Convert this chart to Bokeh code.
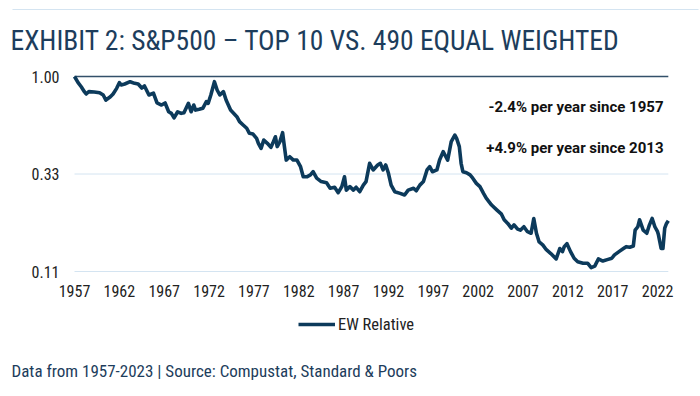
import math
from bokeh.plotting import figure
from bokeh.models import (Range1d, FixedTicker, CustomJSTickFormatter, Label, BoxAnnotation,
                          Legend, LegendItem, ColumnDataSource)
from bokeh.embed import file_html
from bokeh.resources import INLINE

# ---------------- data ----------------
dates = [1957.0, 1957.4, 1957.75, 1958.1, 1958.3, 1958.6, 1959.2, 1959.8, 1960.2, 1960.5,
         1961.0, 1961.3, 1961.7, 1962.0, 1962.2, 1962.6, 1963.2, 1963.7, 1964.1, 1964.5,
         1964.8, 1965.3, 1965.8, 1966.2, 1966.7, 1967.1, 1967.5, 1967.8, 1968.1, 1968.5,
         1968.9, 1969.2, 1969.7, 1970.0, 1970.3, 1970.5, 1970.9, 1971.3, 1971.7, 1971.9,
         1972.2, 1972.6, 1972.9, 1973.2, 1973.6, 1973.9, 1974.4, 1975.1, 1975.4, 1975.8,
         1976.2, 1976.5, 1976.9, 1977.3, 1977.5, 1977.8, 1978.1, 1978.5, 1978.9, 1979.1,
         1979.4, 1979.6, 1979.9, 1980.2, 1980.4, 1980.6, 1981.0, 1981.4, 1981.8, 1982.2,
         1982.5, 1982.9, 1983.3, 1983.6, 1984.0, 1984.5, 1985.1, 1985.5, 1986.0, 1986.4,
         1986.8, 1987.1, 1987.3, 1987.7, 1988.1, 1988.4, 1988.8, 1989.2, 1989.5, 1989.9,
         1990.3, 1990.8, 1991.1, 1991.4, 1991.7, 1992.0, 1992.3, 1992.7, 1993.3, 1993.8,
         1994.2, 1994.8, 1995.1, 1995.5, 1995.9, 1996.3, 1996.6, 1996.9, 1997.4, 1997.7,
         1998.1, 1998.4, 1998.6, 1999.0, 1999.4, 1999.6, 1999.9, 2000.1, 2000.3, 2000.7,
         2001.1, 2001.4, 2001.8, 2002.2, 2002.6, 2002.9, 2003.5, 2004.1, 2004.6, 2004.9,
         2005.3, 2005.7, 2006.0, 2006.4, 2006.7, 2007.1, 2007.5, 2007.9, 2008.2, 2008.5,
         2008.8, 2009.2, 2009.6, 2010.1, 2010.7, 2011.1, 2011.4, 2011.6, 2011.9, 2012.3,
         2012.7, 2013.1, 2013.7, 2014.2, 2014.6, 2015.0, 2015.4, 2015.9, 2016.4, 2016.9,
         2017.2, 2017.7, 2018.2, 2018.5, 2018.9, 2019.3, 2019.5, 2019.8, 2020.0, 2020.4,
         2020.8, 2021.1, 2021.4, 2021.7, 2022.0, 2022.1, 2022.4, 2022.6, 2022.8, 2023.0,
         2023.2]

ew_relative = [1.000, 0.933, 0.891, 0.843, 0.821, 0.843, 0.840, 0.833, 0.812, 0.767,
               0.796, 0.821, 0.875, 0.933, 0.909, 0.919, 0.943, 0.926, 0.919, 0.878,
               0.899, 0.812, 0.830, 0.742, 0.725, 0.742, 0.672, 0.660, 0.627, 0.672,
               0.660, 0.665, 0.739, 0.672, 0.725, 0.685, 0.691, 0.699, 0.753, 0.739,
               0.812, 0.943, 0.859, 0.812, 0.843, 0.767, 0.685, 0.636, 0.601, 0.579,
               0.558, 0.527, 0.523, 0.498, 0.471, 0.445, 0.489, 0.471, 0.450, 0.471,
               0.507, 0.454, 0.480, 0.531, 0.454, 0.390, 0.405, 0.390, 0.390, 0.362,
               0.323, 0.323, 0.330, 0.342, 0.318, 0.306, 0.302, 0.284, 0.287, 0.270,
               0.289, 0.323, 0.278, 0.289, 0.278, 0.287, 0.273, 0.294, 0.306, 0.376,
               0.349, 0.369, 0.376, 0.349, 0.369, 0.336, 0.294, 0.273, 0.268, 0.263,
               0.278, 0.284, 0.276, 0.294, 0.306, 0.349, 0.362, 0.342, 0.349, 0.390,
               0.429, 0.405, 0.390, 0.480, 0.517, 0.498, 0.454, 0.376, 0.342, 0.338,
               0.330, 0.318, 0.300, 0.289, 0.268, 0.254, 0.235, 0.222, 0.212, 0.199,
               0.191, 0.181, 0.188, 0.179, 0.177, 0.184, 0.174, 0.171, 0.202, 0.171,
               0.155, 0.150, 0.142, 0.136, 0.128, 0.144, 0.139, 0.147, 0.152, 0.139,
               0.129, 0.124, 0.122, 0.122, 0.116, 0.118, 0.128, 0.125, 0.127, 0.129,
               0.134, 0.139, 0.144, 0.147, 0.146, 0.148, 0.177, 0.184, 0.199, 0.177,
               0.171, 0.188, 0.202, 0.184, 0.174, 0.168, 0.144, 0.144, 0.181, 0.191,
               0.197]

x_ticks = [1957, 1962, 1967, 1972, 1977, 1982, 1987, 1992, 1997, 2002, 2007, 2012, 2017, 2022]
y_ticks = [1 / 9, 1 / 3, 1.0]

title_text = "EXHIBIT 2: S&P500 \u2013 TOP 10 VS. 490 EQUAL WEIGHTED"
note_1 = "-2.4% per year since 1957"
note_2 = "+4.9% per year since 2013"
footer_text = "Data from 1957-2023 | Source: Compustat, Standard & Poors"
series_name = "EW Relative"

# ---------------- styles / layout ----------------
NAVY = "#0c3a5b"
TITLE_C = "#1d3d5c"
GRID_C = "#d4e4f1"
TOPLINE_C = "#33506a"
TXT = "#222222"
FONT = "Roboto Condensed"

W, H = 700, 396
# the frame fills the canvas; plot area: x 73..668 px, y 76 (value 1) .. 271 (value 1/9) px
PX_PER_YEAR = 8.97
X0_PX = 74            # pixel of the first year tick
TOP_PX, BOT_PX = 76, 271
k = math.log(y_ticks[-1] / y_ticks[0]) / (BOT_PX - TOP_PX)
x_start = x_ticks[0] - X0_PX / PX_PER_YEAR
x_end = x_start + W / PX_PER_YEAR
y_end = y_ticks[-1] * math.exp(TOP_PX * k)
y_start = y_ticks[-1] * math.exp(-(H - TOP_PX) * k)

p = figure(width=W, height=H, output_backend="svg", toolbar_location=None,
           y_axis_type="log",
           x_range=Range1d(x_start, x_end), y_range=Range1d(y_start, y_end),
           min_border=0)
p.outline_line_color = None
p.background_fill_color = "white"
p.border_fill_color = "white"
p.xgrid.visible = False
p.ygrid.visible = False

# gridlines across the data span
grid_src = ColumnDataSource(dict(x0=[dates[0]] * 2, x1=[dates[-1]] * 2, y=y_ticks[:2]))
p.segment(x0="x0", y0="y", x1="x1", y1="y", source=grid_src, line_color=GRID_C, line_width=1)
top_src = ColumnDataSource(dict(x0=[dates[0]], x1=[dates[-1]], y=y_ticks[2:]))
p.segment(x0="x0", y0="y", x1="x1", y1="y", source=top_src, line_color=TOPLINE_C, line_width=1.5)

src = ColumnDataSource(dict(x=dates, y=ew_relative))
r = p.line("x", "y", source=src, line_color=NAVY, line_width=3.6, line_join="round")

# axes placed at the plot-area edges
p.xaxis.fixed_location = y_ticks[0]
p.yaxis.fixed_location = x_start + (X0_PX - 1) / PX_PER_YEAR
p.xaxis.ticker = FixedTicker(ticks=x_ticks)
p.yaxis.ticker = FixedTicker(ticks=y_ticks)
p.yaxis.formatter = CustomJSTickFormatter(code="return tick.toFixed(2);")
p.xaxis.formatter = CustomJSTickFormatter(code="return tick.toFixed(0);")
for ax in (p.xaxis[0], p.yaxis[0]):
    ax.axis_line_color = None
    ax.major_tick_line_color = None
    ax.minor_tick_line_color = None
    ax.major_tick_out = 0
    ax.major_tick_in = 0
    ax.major_label_text_font = FONT
    ax.major_label_text_font_size = "16px"
    ax.major_label_text_color = TXT
p.yaxis.major_label_standoff = 14
p.xaxis.major_label_standoff = 13

# separator rule at the very top
p.add_layout(BoxAnnotation(left=12, right=698, bottom=H - 9.5, top=H - 8.5,
                           left_units="screen", right_units="screen",
                           bottom_units="screen", top_units="screen",
                           fill_color=GRID_C, fill_alpha=1.0, line_color=None))

# title
p.add_layout(Label(x=10, y=H - 40, x_units="screen", y_units="screen", text=title_text,
                   text_font=FONT, text_font_size="27.5px", text_color=TITLE_C,
                   text_baseline="middle"))

# notes
for txt, mid in ((note_1, 106.2), (note_2, 147.0)):
    p.add_layout(Label(x=663, y=H - mid, x_units="screen", y_units="screen", text=txt,
                       text_font="Roboto", text_font_style="bold",
                       text_font_size="15px", text_color="#111111",
                       text_align="right", text_baseline="middle"))

# legend
legend = Legend(items=[LegendItem(label=series_name, renderers=[r])],
                location=(298, 62), orientation="horizontal",
                padding=0, margin=0, spacing=0, glyph_width=37, glyph_height=20,
                label_standoff=3, label_height=20,
                label_text_font=FONT, label_text_font_size="16.5px",
                label_text_color=TXT, border_line_color=None,
                background_fill_alpha=0)
p.add_layout(legend)

# footer
p.add_layout(Label(x=11, y=H - 370, x_units="screen", y_units="screen", text=footer_text,
                   text_font=FONT, text_font_size="17px", text_color=TITLE_C,
                   text_baseline="middle"))

open("out.html", "w").write(file_html(p, INLINE))
